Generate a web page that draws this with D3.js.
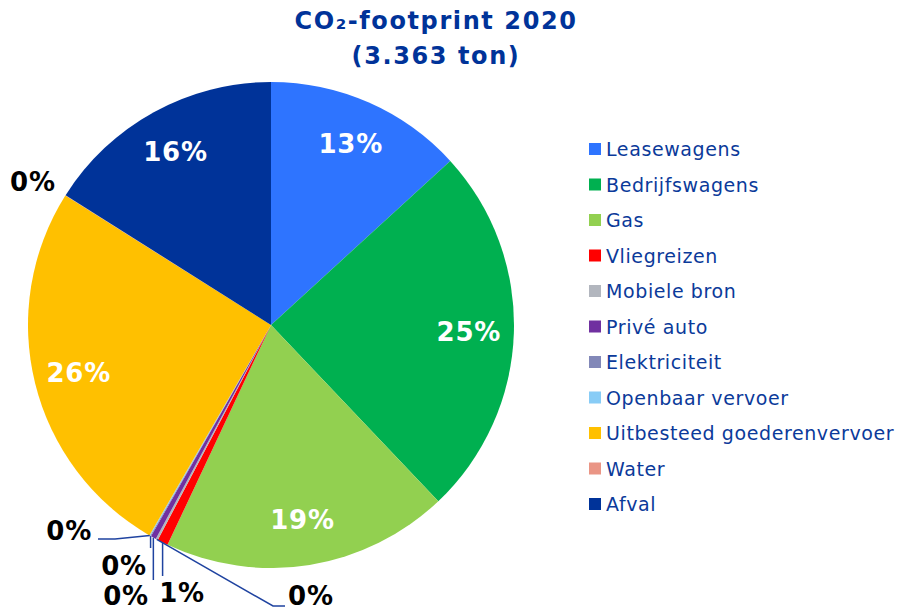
<!DOCTYPE html>
<html>
<head>
<meta charset="utf-8">
<script src="https://cdn.jsdelivr.net/npm/d3@7"></script>
<style>
  html, body { margin: 0; padding: 0; background: #ffffff; }
  svg { display: block; font-family: "DejaVu Sans", Verdana, sans-serif; }
</style>
</head>
<body>
<svg id="chart" width="899" height="610"></svg>
<script>
// ---- Data ----
const categories = ["Leasewagens", "Bedrijfswagens", "Gas", "Vliegreizen", "Mobiele bron",
  "Privé auto", "Elektriciteit", "Openbaar vervoer", "Uitbesteed goederenvervoer", "Water", "Afval"];
const tons = [444, 831, 642, 24, 5, 12, 2, 2, 861, 1, 539];
const colors = ["#2E74FF", "#00B050", "#92D050", "#FF0000", "#B2B6BE",
  "#7030A0", "#8288B8", "#88CCF6", "#FFC000", "#EA9585", "#003399"];
const titleLines = ["CO₂-footprint 2020", "(3.363 ton)"];

// ---- Layout ----
const svg = d3.select("#chart");
const cx = 271, cy = 325, R = 243, labelR = 198;
const textBlue = "#0B3A9A";

svg.append("g").selectAll("text").data(titleLines).join("text")
  .attr("x", 436).attr("y", (d, i) => 29 + i * 35)
  .attr("text-anchor", "middle")
  .attr("font-size", 24).attr("font-weight", "bold")
  .attr("letter-spacing", 1.6)
  .attr("fill", "#003399")
  .text(d => d);

const data = categories.map((c, i) => ({ name: c, value: tons[i], color: colors[i] }));
const total = d3.sum(tons);
const pie = d3.pie().value(d => d.value).sort(null).startAngle(0).endAngle(2 * Math.PI);
const arcs = pie(data);
const arc = d3.arc().innerRadius(0).outerRadius(R);
const labelArc = d3.arc().innerRadius(labelR).outerRadius(labelR);
const pct = d => d3.format(".0f")(d.data.value / total * 100) + "%";

const g = svg.append("g").attr("transform", `translate(${cx},${cy})`);
g.selectAll("path.slice").data(arcs).join("path")
  .attr("class", "slice")
  .attr("d", arc)
  .attr("fill", d => d.data.color);

// inside labels (large slices)
const inside = arcs.filter(d => d.data.value / total > 0.05);
g.selectAll("text.in").data(inside).join("text")
  .attr("class", "in")
  .attr("transform", d => `translate(${labelArc.centroid(d)})`)
  .attr("text-anchor", "middle")
  .attr("dominant-baseline", "central")
  .attr("font-size", 26).attr("font-weight", "bold")
  .attr("letter-spacing", 0.8)
  .attr("fill", "#ffffff")
  .text(pct);

// outside labels (small slices) with leader lines
const outsideLayout = {
  "Vliegreizen":      { lx: 182, ly: 602, anchor: "middle", path: s => [s, [s[0], 576]] },
  "Mobiele bron":     { lx: 288, ly: 605, anchor: "start",  path: s => [s, [273, 606], [285, 606]] },
  "Privé auto":       { lx: 126, ly: 605, anchor: "middle", path: s => [s, [s[0], 580]] },
  "Elektriciteit":    { lx: 124, ly: 575, anchor: "middle", path: s => [s, [s[0], 548]] },
  "Openbaar vervoer": { lx: 92,  ly: 540, anchor: "end",    path: s => [s, [115, 539], [98, 539]] },
  "Water":            { lx: 10,  ly: 191, anchor: "start",  path: null }
};
const outside = arcs.filter(d => outsideLayout[d.data.name]);
const edgePoint = d => {
  const a = (d.startAngle + d.endAngle) / 2;
  return [cx + R * Math.sin(a), cy - R * Math.cos(a)];
};
const og = svg.append("g");
og.selectAll("path.leader").data(outside.filter(d => outsideLayout[d.data.name].path)).join("path")
  .attr("class", "leader")
  .attr("d", d => d3.line()(outsideLayout[d.data.name].path(edgePoint(d))))
  .attr("fill", "none")
  .attr("stroke", "#1F43A0")
  .attr("stroke-width", 1.5);
og.selectAll("text.out").data(outside).join("text")
  .attr("class", "out")
  .attr("x", d => outsideLayout[d.data.name].lx)
  .attr("y", d => outsideLayout[d.data.name].ly)
  .attr("text-anchor", d => outsideLayout[d.data.name].anchor)
  .attr("font-size", 26).attr("font-weight", "bold")
  .attr("letter-spacing", 0.8)
  .attr("fill", "#000000")
  .text(pct);

// legend
const legend = svg.append("g").attr("transform", "translate(589,149)");
const rows = legend.selectAll("g").data(data).join("g")
  .attr("transform", (d, i) => `translate(0,${i * 35.5})`);
rows.append("rect")
  .attr("x", 0).attr("y", -6).attr("width", 12).attr("height", 12)
  .attr("fill", d => d.color);
rows.append("text")
  .attr("x", 17).attr("y", 0)
  .attr("dominant-baseline", "central")
  .attr("font-size", 19)
  .attr("letter-spacing", 0.6)
  .attr("fill", textBlue)
  .text(d => d.name);
</script>
</body>
</html>
